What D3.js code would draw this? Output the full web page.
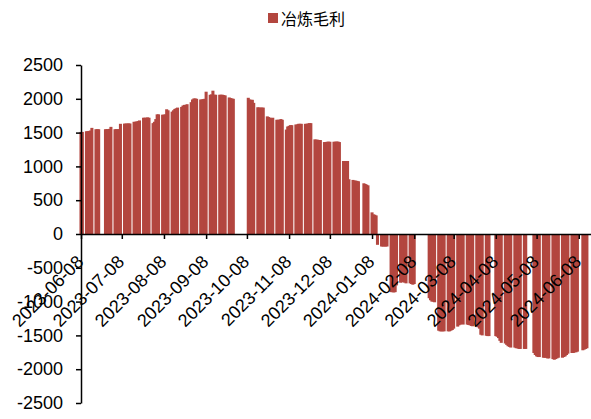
<!DOCTYPE html>
<html>
<head>
<meta charset="utf-8">
<script src="https://cdn.jsdelivr.net/npm/d3@7"></script>
<style>
  body { margin: 0; background: #fff; }
  .axis text { font-family: "Liberation Sans", Arial, sans-serif; font-size: 18px; fill: #000; }
  .axis path, .axis line { stroke: #000; stroke-width: 1.5; }
</style>
</head>
<body>
<svg width="591" height="419"></svg>
<script>
// series name
const seriesName = '冶炼毛利';

// monday of each trading week (weeks fully on holiday left out)
const weekStarts = [
  '2023-06-05', '2023-06-12', '2023-06-19', '2023-06-26', '2023-07-03', '2023-07-10',
  '2023-07-17', '2023-07-24', '2023-07-31', '2023-08-07', '2023-08-14', '2023-08-21',
  '2023-08-28', '2023-09-04', '2023-09-11', '2023-09-18', '2023-09-25', '2023-10-09',
  '2023-10-16', '2023-10-23', '2023-10-30', '2023-11-06', '2023-11-13', '2023-11-20',
  '2023-11-27', '2023-12-04', '2023-12-11', '2023-12-18', '2023-12-25', '2024-01-01',
  '2024-01-08', '2024-01-15', '2024-01-22', '2024-01-29', '2024-02-05', '2024-02-19',
  '2024-02-26', '2024-03-04', '2024-03-11', '2024-03-18', '2024-03-25', '2024-04-01',
  '2024-04-08', '2024-04-15', '2024-04-22', '2024-04-29', '2024-05-06', '2024-05-13',
  '2024-05-20', '2024-05-27', '2024-06-03', '2024-06-10'
];

// daily values mon..fri for each week, null = no trading
const weekValues = [
  [null, null, null, 1510, 1510],
  [1520, 1520, 1525, 1530, 1570],
  [1550, 1550, 1550, null, null],
  [1550, 1550, 1550, 1555, 1585],
  [1550, 1550, 1550, 1550, 1630],
  [1633, 1633, 1635, 1635, 1635],
  [1660, 1660, 1665, 1670, 1680],
  [1720, 1720, 1720, 1725, 1720],
  [1640, 1660, 1700, 1770, 1770],
  [1765, 1765, 1770, 1845, 1830],
  [1810, 1830, 1850, 1860, 1870],
  [1880, 1900, 1910, 1910, 1920],
  [1950, 1990, 2005, 2005, 2000],
  [1990, 1990, 1995, 2000, 2105],
  [2060, 2065, 2120, 2060, 2060],
  [2060, 2060, 2060, 2055, 2050],
  [2020, 2010, 2005, 2000, null],
  [2015, 1990, 1985, 1985, 1940],
  [1875, 1870, 1870, 1870, 1870],
  [1740, 1730, 1720, 1710, 1720],
  [1690, 1690, 1690, 1700, 1690],
  [1545, 1590, 1600, 1610, 1610],
  [1620, 1620, 1630, 1630, 1630],
  [1630, 1630, 1635, 1640, 1640],
  [1400, 1395, 1395, 1390, 1390],
  [1360, 1360, 1365, 1365, 1365],
  [1365, 1365, 1367, 1367, 1360],
  [1080, 1080, 1080, 1080, 810],
  [800, 790, 790, 785, 780],
  [null, 750, 740, 730, 720],
  [320, 290, 285, 275, -160],
  [-185, -185, -185, -185, -185],
  [-860, -860, -865, -860, -760],
  [-720, -715, -710, -720, -730],
  [-730, -740, -750, -740, null],
  [-950, -980, -1000, -1000, -1010],
  [-1430, -1440, -1440, -1440, -1440],
  [-1440, -1440, -1430, -1420, -1400],
  [-1370, -1350, -1340, -1330, -1340],
  [-1340, -1345, -1350, -1360, -1365],
  [-1370, -1380, -1400, -1490, -1500],
  [-1505, -1510, -1510, null, null],
  [-1510, -1520, -1540, -1580, -1610],
  [-1620, -1640, -1660, -1670, -1680],
  [-1680, -1690, -1690, -1700, -1700],
  [-1700, -1700, null, null, null],
  [-1760, -1790, -1810, -1820, -1820],
  [-1830, -1830, -1830, -1840, -1840],
  [-1850, -1860, -1850, -1840, -1830],
  [-1830, -1820, -1810, -1790, -1770],
  [-1760, -1760, -1750, -1750, -1740],
  [null, -1720, -1710, -1700, -1690]
];

// axis ticks
const xTickLabels = [
  '2023-06-08', '2023-07-08', '2023-08-08', '2023-09-08', '2023-10-08', '2023-11-08',
  '2023-12-08', '2024-01-08', '2024-02-08', '2024-03-08', '2024-04-08', '2024-05-08',
  '2024-06-08'
];
const yTicks = [-2500, -2000, -1500, -1000, -500, 0, 500, 1000, 1500, 2000, 2500];

const parse = d3.timeParse('%Y-%m-%d');

// flatten weeks into daily rows
let data = [];
weekStarts.forEach((w, i) => {
  weekValues[i].forEach((v, j) => {
    if (v !== null) data.push({ date: d3.timeDay.offset(parse(w), j), value: v });
  });
});

let svg = d3.select('svg');

let x = d3.scaleTime()
  .domain([parse('2023-06-08'), parse('2024-06-17')])
  .range([81, 591]);

let y = d3.scaleLinear()
  .domain([-2500, 2500])
  .range([403, 65]);

let barW = 3.05;

// bars
svg.append('g')
  .selectAll('rect')
  .data(data)
  .join('rect')
  .attr('x', d => x(d.date) - barW / 2)
  .attr('width', barW)
  .attr('y', d => y(Math.max(0, d.value)))
  .attr('height', d => Math.abs(y(d.value) - y(0)))
  .attr('fill', '#b3463f');

// x axis at zero
let xAxis = svg.append('g')
  .attr('class', 'axis')
  .attr('transform', `translate(0, ${y(0)})`)
  .call(d3.axisBottom(x)
    .tickValues(xTickLabels.map(parse))
    .tickFormat(d3.timeFormat('%Y-%m-%d'))
    .tickSize(5)
    .tickSizeOuter(0));

xAxis.selectAll('text')
  .attr('y', 0)
  .attr('dy', 0)
  .attr('text-anchor', 'end')
  .attr('transform', 'translate(3, 29) rotate(-45)');

// y axis
svg.append('g')
  .attr('class', 'axis')
  .attr('transform', 'translate(81, 0)')
  .call(d3.axisLeft(y)
    .tickValues(yTicks)
    .tickFormat(d => String(d))
    .tickSize(5)
    .tickPadding(13)
    .tickSizeOuter(0));

// legend
let legend = svg.append('g').attr('transform', 'translate(268, 13)');
legend.append('rect')
  .attr('width', 10)
  .attr('height', 10)
  .attr('fill', '#b3463f');
legend.append('text')
  .attr('x', 13)
  .attr('y', 6)
  .attr('dy', '0.35em')
  .style('font-family', '"Noto Sans CJK SC", sans-serif')
  .style('font-size', '16px')
  .text(seriesName);
</script>
</body>
</html>
